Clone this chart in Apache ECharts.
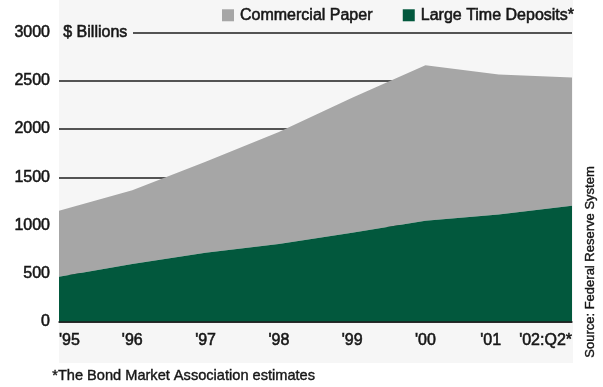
<!DOCTYPE html>
<html>
<head>
<meta charset="utf-8">
<title>Commercial Paper and Large Time Deposits</title>
<script src="https://cdn.jsdelivr.net/npm/echarts@6/dist/echarts.min.js"></script>
<style>
  html, body { margin: 0; padding: 0; background: #ffffff; }
  #chart { width: 603px; height: 387px; }
</style>
</head>
<body>
<div id="chart"></div>
<script>
// Outstanding balances, $ billions
const periods = ["'95", "'96", "'97", "'98", "'99", "'00", "'01", "'02:Q2*"];
const largeTimeDeposits = [469, 600, 717, 807, 924, 1049, 1115, 1204];
const commercialPaper = [683, 766, 943, 1163, 1399, 1611, 1449, 1329];
const yTicks = [0, 500, 1000, 1500, 2000, 2500, 3000];

const FONT = '"Liberation Sans", Arial, sans-serif';
const INK = '#161616';
const PANEL = '#f6f6f6';
const GRAY = '#a6a6a6';
const GREEN = '#02583d';
// a thin outline in the text colour gives the labels a medium weight
const HEAVY = { textBorderColor: INK, textBorderWidth: 0.55 };

const chart = echarts.init(document.getElementById('chart'), null, { renderer: 'canvas' });

chart.setOption({
  animation: false,
  backgroundColor: '#ffffff',
  textStyle: { fontFamily: FONT, color: INK },
  grid: { left: 59, right: 31, top: 32.5, bottom: 65, containLabel: false },
  legend: {
    left: 222,
    top: 7,
    padding: 0,
    itemWidth: 12,
    itemHeight: 12,
    itemGap: 30,
    icon: 'rect',
    selectedMode: false,
    textStyle: Object.assign({ fontFamily: FONT, fontSize: 16, color: INK, padding: [0, 0, 0, 1] }, HEAVY),
    data: ['Commercial Paper', 'Large Time Deposits*']
  },
  xAxis: {
    type: 'category',
    data: periods,
    boundaryGap: false,
    axisTick: { show: false },
    axisLine: { show: true, lineStyle: { color: '#1e1e1e', width: 1.5 } },
    axisLabel: Object.assign({
      interval: 0,
      hideOverlap: false,
      margin: 11,
      fontFamily: FONT,
      fontSize: 16,
      color: INK,
      alignMinLabel: 'left',
      alignMaxLabel: 'right',
      formatter: function (v) {
        return v === "'01" ? '{shift|' + v + '}' : v;
      },
      rich: {
        shift: Object.assign({ fontFamily: FONT, fontSize: 16, color: INK, padding: [0, 16, 0, 0] }, HEAVY)
      }
    }, HEAVY),
    z: 5
  },
  yAxis: {
    type: 'value',
    min: yTicks[0],
    max: yTicks[yTicks.length - 1],
    interval: yTicks[1] - yTicks[0],
    axisLine: { show: false },
    axisTick: { show: false },
    axisLabel: Object.assign({
      margin: 9, fontFamily: FONT, fontSize: 16, color: INK,
      formatter: function (v) { return String(v); }
    }, HEAVY),
    splitLine: { show: true, lineStyle: { color: '#1e1e1e', width: 1.5 } }
  },
  graphic: [
    // light panel behind the plot and the period labels
    { type: 'rect', z: -10, silent: true,
      shape: { x: 59, y: 0, width: 514, height: 363 },
      style: { fill: PANEL } },
    // unit caption sits on the top grid line
    { type: 'rect', z: 10, silent: true,
      shape: { x: 59, y: 28, width: 74, height: 10 },
      style: { fill: PANEL } },
    { type: 'text', z: 11, silent: true, left: 63, top: 24,
      style: { text: '$ Billions', font: '16px ' + FONT, fill: INK, stroke: INK, lineWidth: 0.55 } },
    // footnote
    { type: 'text', silent: true, left: 52, top: 368,
      style: { text: '*The Bond Market Association estimates', font: '14.6px ' + FONT, fill: INK, stroke: INK, lineWidth: 0.4 } },
    // source, rotated along the right edge
    { type: 'text', silent: true, x: 590, y: 262, rotation: Math.PI / 2,
      style: { text: 'Source: Federal Reserve System', font: '13px ' + FONT, fill: INK,
               stroke: INK, lineWidth: 0.4, align: 'center', verticalAlign: 'middle' } }
  ],
  series: [
    {
      name: 'Large Time Deposits*',
      type: 'line',
      stack: 'total',
      data: largeTimeDeposits,
      symbol: 'none',
      lineStyle: { width: 0 },
      itemStyle: { color: GREEN },
      areaStyle: { color: GREEN, opacity: 1 },
      z: 3
    },
    {
      name: 'Commercial Paper',
      type: 'line',
      stack: 'total',
      data: commercialPaper,
      symbol: 'none',
      lineStyle: { width: 0 },
      itemStyle: { color: GRAY },
      areaStyle: { color: GRAY, opacity: 1 },
      z: 2
    }
  ]
});
</script>
</body>
</html>
